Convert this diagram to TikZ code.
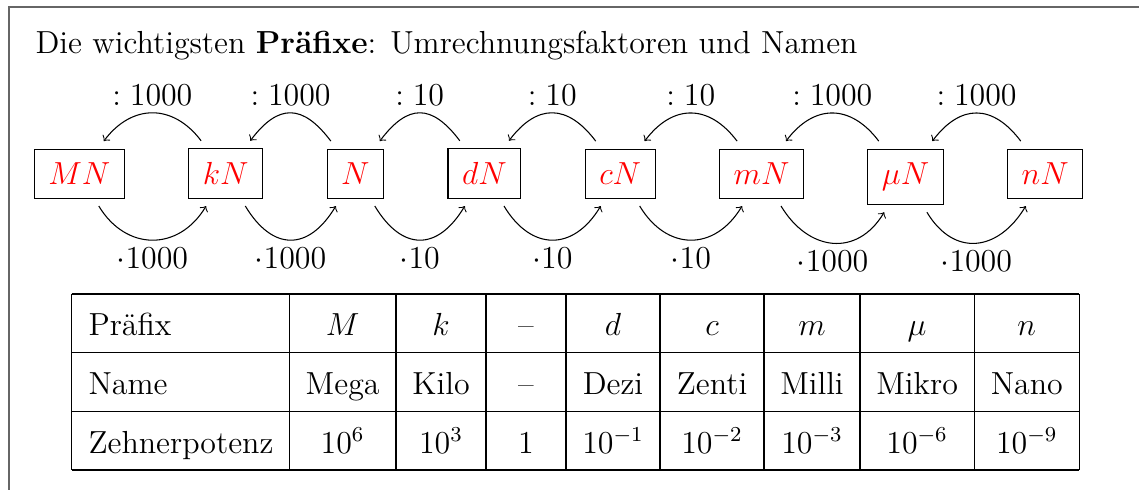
\documentclass[12pt,tikz,border=0pt]{standalone}
\usetikzlibrary{positioning}

\begin{document}
\begin{tikzpicture}[
  box/.style={draw, text=red, inner xsep=5.3pt, inner ysep=5.1pt, outer sep=3pt},
  lbl/.style={inner sep=2.75pt},
  cell/.style={anchor=base, inner sep=0pt},
  node distance=0.64cm
]
  \useasboundingbox (0,0) rectangle (15.05,-6.474);
  \clip (0,0) rectangle (15.05,-6.474);
  % frame, cut off at the right and at the bottom
  \draw[black!60] (0.1189,-6.8) |- (15.4,-0.0925);
  \node[anchor=base west, inner sep=0pt] (title) at (0.4625,-0.7069)
    {Die wichtigsten \textbf{Präfixe}: Umrechnungsfaktoren und Namen};

  % the units
  \node[box, anchor=base] (MN) at (1.0478,-2.4378) {$MN$};
  \node[box, base right=of MN] (kN) {$kN$};
  \node[box, base right=of kN] (N) {$N$};
  \node[box, base right=of N] (dN) {$dN$};
  \node[box, base right=of dN] (cN) {$cN$};
  \node[box, base right=of cN] (mN) {$mN$};
  \node[box, base right=of mN] (muN) {$\mu N$};
  \node[box, base right=of muN] (nN) {$nN$};

  % conversion arrows
  \foreach \a/\b/\f in {MN/kN/1000, kN/N/1000, N/dN/10, dN/cN/10, cN/mN/10, mN/muN/1000, muN/nN/1000}{
    \draw[->] (\b) to[out=127, in=53, distance=17.6pt] node[lbl, above] (d-\a) {$:\f$} (\a);
    \draw[->] (\a) to[out=-59, in=-121, distance=19.9pt] node[lbl, below] (m-\a) {$\cdot\f$} (\b);
  }

  % table
  \foreach \x in {0.9474,3.8225,5.2323,6.4215,7.4786,8.7206,10.0947,11.3632,12.8734,14.2608}
    \draw (\x,-3.8846) -- (\x,-6.2101);
  \foreach \y in {-3.8846,-4.6602,-5.4399,-6.2101}
    \draw (0.9474,\y) -- (14.2608,\y);

  \node[cell, anchor=base west] (h1) at (1.1627,-4.4316) {Präfix};
  \node[cell, anchor=base west] (h2) at (1.1627,-5.2112) {Name};
  \node[cell, anchor=base west] (h3) at (1.1627,-5.9881) {Zehnerpotenz};
  \foreach \x/\p/\n/\z [count=\i] in {4.5274/$M$/Mega/$10^6$, 5.8269/$k$/Kilo/$10^3$,
      6.95/--/--/$1$, 8.0996/$d$/Dezi/$10^{-1}$, 9.4077/$c$/Zenti/$10^{-2}$,
      10.729/$m$/Milli/$10^{-3}$, 12.1183/$\mu$/Mikro/$10^{-6}$, 13.5671/$n$/Nano/$10^{-9}$}{
    \node[cell] (p\i) at (\x,-4.4316) {\p};
    \node[cell] (n\i) at (\x,-5.2112) {\n};
    \node[cell] (z\i) at (\x,-5.9881) {\z};
  }
\end{tikzpicture}
\end{document}
